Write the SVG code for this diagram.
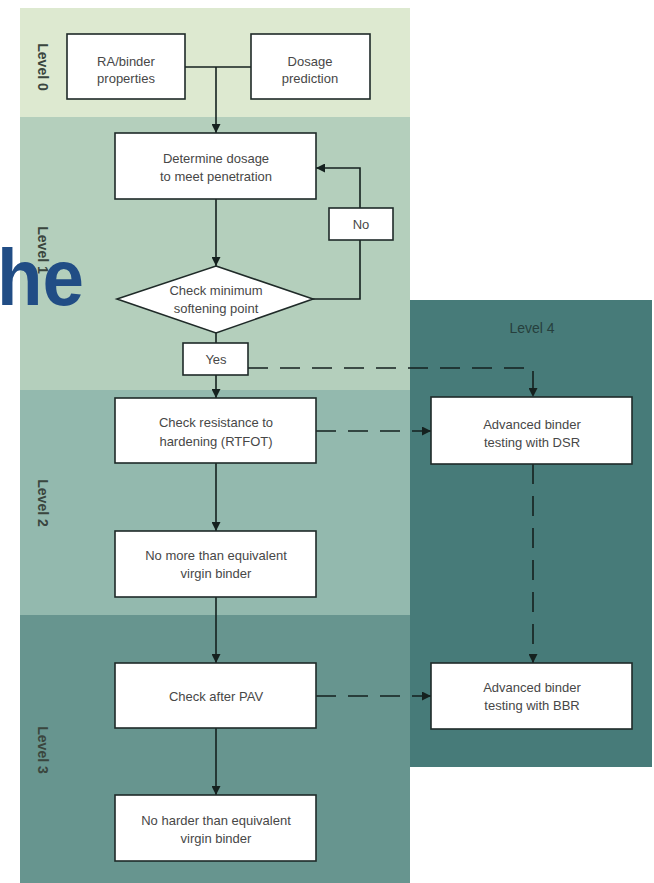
<svg xmlns="http://www.w3.org/2000/svg" width="654" height="883" viewBox="0 0 654 883">
<style>
  .box{fill:#ffffff;stroke:#1f2a28;stroke-width:1.6}
  .t{font-family:"Liberation Sans",Arial,sans-serif;font-size:13px;fill:#474747;text-anchor:middle}
  .lvl{font-family:"Liberation Sans",Arial,sans-serif;font-size:14px;font-weight:bold;fill:#3a463e;text-anchor:middle}
  .c{fill:none;stroke:#15211f;stroke-width:1.6}
  .d{fill:none;stroke:#15211f;stroke-width:1.6;stroke-dasharray:20 12}
</style>
<defs>
  <marker id="ah" viewBox="0 0 10 10" refX="10" refY="5" markerWidth="10" markerHeight="9" markerUnits="userSpaceOnUse" orient="auto">
    <path d="M0,0 L10,5 L0,10 z" fill="#15211f"/>
  </marker>
</defs>
<rect x="0" y="0" width="654" height="883" fill="#ffffff"/>
<g id="bands">
  <rect x="20" y="8" width="390" height="109" fill="#dde9d0"/>
  <rect x="20" y="117" width="390" height="273" fill="#b4cfbc"/>
  <rect x="20" y="390" width="390" height="225" fill="#93b9ae"/>
  <rect x="20" y="615" width="390" height="268" fill="#67958f"/>
  <rect x="410" y="300" width="242" height="467" fill="#477b79"/>
  <text class="lvl" transform="translate(43,67) rotate(90)" dy="5">Level 0</text>
  <text class="lvl" transform="translate(43,250) rotate(90)" dy="5">Level 1</text>
  <text class="lvl" transform="translate(43,503) rotate(90)" dy="5">Level 2</text>
  <text class="lvl" transform="translate(43,750) rotate(90)" dy="5">Level 3</text>
  <text class="lvl" x="532" y="333" style="fill:#263f3d;font-weight:normal">Level 4</text>
</g>
<g id="connectors">
  <path class="c" d="M185,67 H251"/>
  <path class="c" d="M216,67 V133" marker-end="url(#ah)"/>
  <path class="c" d="M216,199 V266" marker-end="url(#ah)"/>
  <path class="c" d="M313,299 H360 V168 H316" marker-end="url(#ah)"/>
  <path class="c" d="M216,333 V398" marker-end="url(#ah)"/>
  <path class="d" d="M248,368 H533 V397" marker-end="url(#ah)"/>
  <path class="c" d="M216,463 V531" marker-end="url(#ah)"/>
  <path class="c" d="M216,597 V663" marker-end="url(#ah)"/>
  <path class="c" d="M216,728 V795" marker-end="url(#ah)"/>
  <path class="d" d="M316,431 H431" marker-end="url(#ah)"/>
  <path class="d" d="M533,464 V663" marker-end="url(#ah)"/>
  <path class="d" d="M316,696 H431" marker-end="url(#ah)"/>
</g>
<g id="ra">
  <rect class="box" x="67" y="34" width="118" height="65"/>
  <text class="t" x="126" y="66">RA/binder</text>
  <text class="t" x="126" y="83">properties</text>
</g>
<g id="dosage">
  <rect class="box" x="251" y="34" width="119" height="65"/>
  <text class="t" x="310" y="66">Dosage</text>
  <text class="t" x="310" y="83">prediction</text>
</g>
<g id="determine">
  <rect class="box" x="115" y="133" width="201" height="66"/>
  <text class="t" x="216" y="163">Determine dosage</text>
  <text class="t" x="216" y="181">to meet penetration</text>
</g>
<g id="check-min">
  <polygon class="box" points="216,266 313,299 216,333 117,299"/>
  <text class="t" x="216" y="295">Check minimum</text>
  <text class="t" x="216" y="313">softening point</text>
</g>
<g id="no">
  <rect class="box" x="329" y="208" width="64" height="32"/>
  <text class="t" x="361" y="229">No</text>
</g>
<g id="yes">
  <rect class="box" x="183" y="343" width="65" height="32"/>
  <text class="t" x="216" y="364">Yes</text>
</g>
<g id="rtfot">
  <rect class="box" x="115" y="398" width="201" height="65"/>
  <text class="t" x="216" y="427">Check resistance to</text>
  <text class="t" x="216" y="446">hardening (RTFOT)</text>
</g>
<g id="nomore">
  <rect class="box" x="115" y="531" width="201" height="66"/>
  <text class="t" x="216" y="560">No more than equivalent</text>
  <text class="t" x="216" y="578">virgin binder</text>
</g>
<g id="pav">
  <rect class="box" x="115" y="663" width="201" height="65"/>
  <text class="t" x="216" y="701">Check after PAV</text>
</g>
<g id="noharder">
  <rect class="box" x="115" y="795" width="201" height="66"/>
  <text class="t" x="216" y="825">No harder than equivalent</text>
  <text class="t" x="216" y="843">virgin binder</text>
</g>
<g id="dsr">
  <rect class="box" x="431" y="397" width="201" height="67"/>
  <text class="t" x="532" y="429">Advanced binder</text>
  <text class="t" x="532" y="447">testing with DSR</text>
</g>
<g id="bbr">
  <rect class="box" x="431" y="663" width="201" height="66"/>
  <text class="t" x="532" y="692">Advanced binder</text>
  <text class="t" x="532" y="710">testing with BBR</text>
</g>
<g id="overlay">
  <text x="-3" y="305" font-family="'Liberation Sans',Arial,sans-serif" font-weight="bold" font-size="79" fill="#214d85" textLength="87" lengthAdjust="spacingAndGlyphs">he</text>
</g>
</svg>
